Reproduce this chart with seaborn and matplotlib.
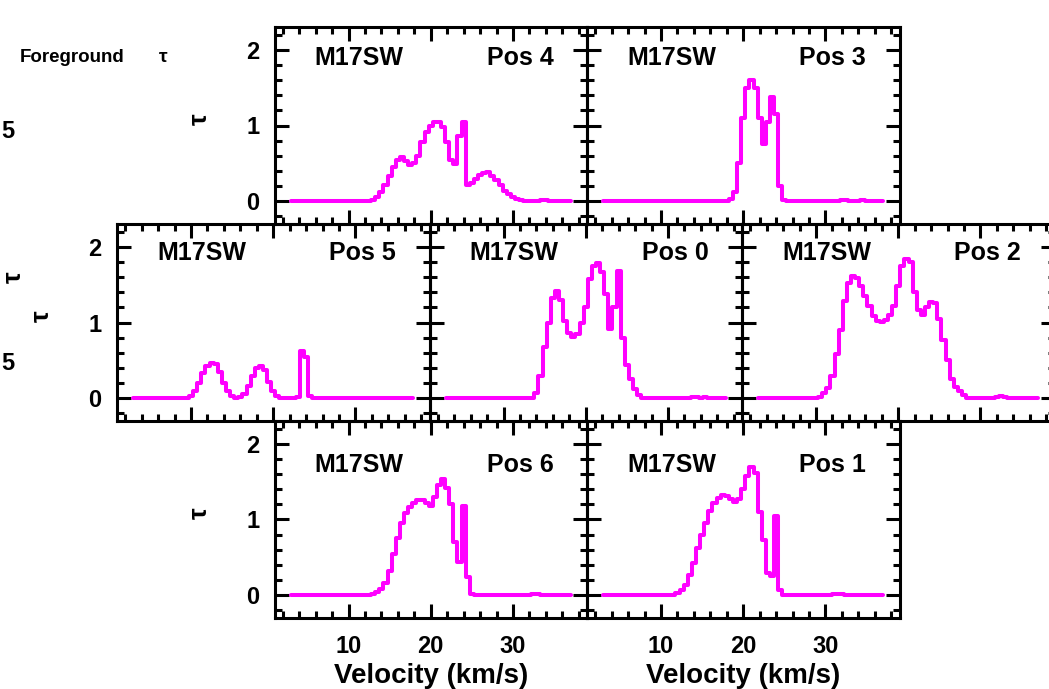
import matplotlib
matplotlib.use("Agg")
import matplotlib.pyplot as plt
from matplotlib.ticker import FixedLocator, MultipleLocator
import pandas as pd
import seaborn as sns

# ---------------------------------------------------------------- data
# channel velocities (km/s)
VELOCITY = [3.0, 3.5, 4.0, 4.5, 5.0, 5.5, 6.0, 6.5, 7.0, 7.5,
            8.0, 8.5, 9.0, 9.5, 10.0, 10.5, 11.0, 11.5, 12.0, 12.5,
            13.0, 13.5, 14.0, 14.5, 15.0, 15.5, 16.0, 16.5, 17.0, 17.5,
            18.0, 18.5, 19.0, 19.5, 20.0, 20.5, 21.0, 21.5, 22.0, 22.5,
            23.0, 23.5, 24.0, 24.5, 25.0, 25.5, 26.0, 26.5, 27.0, 27.5,
            28.0, 28.5, 29.0, 29.5, 30.0, 30.5, 31.0, 31.5, 32.0, 32.5,
            33.0, 33.5, 34.0, 34.5, 35.0, 35.5, 36.0, 36.5, 37.0]

# foreground optical depth per position
TAU_POS4 = [0, 0, 0, 0, 0, 0, 0, 0, 0, 0,
            0, 0, 0, 0, 0, 0, 0, 0, 0, 0.01,
            0.02, 0.05, 0.12, 0.22, 0.33, 0.45, 0.55, 0.58, 0.53, 0.48,
            0.50, 0.60, 0.78, 0.92, 1.00, 1.04, 1.04, 0.98, 0.78, 0.55,
            0.49, 0.86, 1.04, 0.22, 0.24, 0.30, 0.35, 0.37, 0.38, 0.33,
            0.28, 0.21, 0.14, 0.09, 0.05, 0.03, 0.02, 0.01, 0.01, 0.01,
            0.01, 0.02, 0.02, 0.01, 0.01, 0.01, 0, 0, 0]

TAU_POS3 = [0, 0, 0, 0, 0, 0, 0, 0, 0, 0,
            0, 0, 0, 0, 0, 0, 0, 0, 0, 0,
            0, 0, 0, 0, 0, 0, 0, 0, 0, 0,
            0.01, 0.03, 0.12, 0.50, 1.10, 1.50, 1.60, 1.50, 1.10, 0.76,
            1.05, 1.37, 1.15, 0.20, 0.02, 0, 0, 0, 0, 0,
            0, 0, 0, 0, 0, 0, 0, 0.01, 0.02, 0.02,
            0.01, 0.01, 0.01, 0.02, 0.01, 0.01, 0, 0, 0]

TAU_POS5 = [0, 0, 0, 0, 0, 0, 0, 0, 0, 0,
            0, 0, 0, 0.01, 0.03, 0.10, 0.20, 0.33, 0.43, 0.46,
            0.45, 0.35, 0.20, 0.09, 0.03, 0.01, 0.02, 0.06, 0.16, 0.30,
            0.40, 0.42, 0.37, 0.22, 0.10, 0.03, 0.01, 0, 0, 0,
            0.02, 0.62, 0.55, 0.03, 0, 0, 0, 0, 0, 0,
            0, 0, 0, 0, 0, 0, 0, 0, 0, 0,
            0, 0, 0, 0, 0.01, 0, 0, 0, 0]

TAU_POS0 = [0, 0, 0, 0, 0, 0, 0, 0, 0, 0,
            0, 0, 0, 0, 0, 0, 0, 0, 0, 0,
            0, 0.01, 0.07, 0.30, 0.68, 1.00, 1.32, 1.41, 1.30, 1.02,
            0.86, 0.81, 0.85, 0.99, 1.20, 1.58, 1.75, 1.78, 1.66, 1.38,
            0.92, 1.20, 1.68, 0.80, 0.44, 0.25, 0.12, 0.04, 0.01, 0,
            0, 0, 0, 0, 0, 0, 0, 0, 0.01, 0.01,
            0.02, 0.02, 0.01, 0.02, 0.01, 0.01, 0, 0, 0]

TAU_POS2 = [0, 0, 0, 0, 0, 0, 0, 0, 0, 0,
            0, 0, 0, 0, 0, 0.02, 0.07, 0.14, 0.30, 0.59,
            0.90, 1.28, 1.52, 1.61, 1.59, 1.48, 1.35, 1.22, 1.08, 1.02,
            1.01, 1.03, 1.10, 1.22, 1.48, 1.74, 1.84, 1.80, 1.40, 1.17,
            1.10, 1.20, 1.27, 1.26, 1.05, 0.77, 0.50, 0.26, 0.15, 0.09,
            0.04, 0.01, 0, 0, 0, 0, 0, 0, 0.02, 0.03,
            0.02, 0.01, 0.01, 0.01, 0, 0, 0, 0, 0]

TAU_POS6 = [0, 0, 0, 0, 0, 0, 0, 0, 0, 0,
            0, 0, 0, 0, 0, 0, 0, 0, 0, 0.01,
            0.02, 0.04, 0.08, 0.16, 0.32, 0.55, 0.75, 0.95, 1.08, 1.17,
            1.22, 1.26, 1.26, 1.22, 1.18, 1.30, 1.45, 1.53, 1.42, 1.20,
            0.70, 0.44, 1.18, 0.24, 0.02, 0, 0, 0, 0, 0,
            0, 0, 0, 0, 0, 0, 0, 0.01, 0.01, 0.02,
            0.02, 0.01, 0.01, 0, 0.01, 0.01, 0, 0, 0]

TAU_POS1 = [0, 0, 0, 0, 0, 0, 0, 0, 0, 0,
            0, 0, 0, 0, 0, 0, 0, 0.01, 0.03, 0.07,
            0.14, 0.27, 0.43, 0.62, 0.79, 0.95, 1.11, 1.22, 1.29, 1.32,
            1.31, 1.27, 1.23, 1.27, 1.40, 1.58, 1.69, 1.62, 1.10, 0.73,
            0.30, 0.25, 1.04, 0.07, 0, 0, 0, 0, 0, 0,
            0, 0, 0, 0, 0, 0.01, 0.02, 0.02, 0.02, 0.01,
            0.01, 0, 0.01, 0.01, 0.01, 0, 0, 0, 0]

SOURCE = "M17SW"
POSITIONS = ["Pos 4", "Pos 3", "Pos 5", "Pos 0", "Pos 2", "Pos 6", "Pos 1"]
SPECTRA = [TAU_POS4, TAU_POS3, TAU_POS5, TAU_POS0, TAU_POS2, TAU_POS6, TAU_POS1]
X_MAJOR = [10, 20, 30]
Y_MAJOR = [0, 1, 2]
X_LABEL = "Velocity (km/s)"
Y_LABEL = "τ"

# long-form table for seaborn
frames = [pd.DataFrame({"velocity": VELOCITY, "tau": tau, "position": name})
          for name, tau in zip(POSITIONS, SPECTRA)]
df = pd.concat(frames, ignore_index=True)

# ---------------------------------------------------------------- layout
FIG_W, FIG_H = 1049, 689
PANEL_W, PANEL_H = 312.5, 197
XLIM = (1, 39)
YLIM = (-0.3, 2.3)
MAGENTA = "#FF00FF"
INK = "black"

# position name -> (left px, top px, row, shows y tick labels)
LAYOUT = {
    "Pos 4": (274.5, 27, "top", True),
    "Pos 3": (587.0, 27, "top", False),
    "Pos 5": (117.0, 224, "mid", True),
    "Pos 0": (429.5, 224, "mid", False),
    "Pos 2": (742.0, 224, "mid", False),
    "Pos 6": (274.5, 421, "bottom", True),
    "Pos 1": (587.0, 421, "bottom", False),
}
LABEL_BASE = {"top": 1.80, "mid": 1.825, "bottom": 1.63}

sns.set_style("white")
plt.rcParams["font.family"] = ["Liberation Sans", "DejaVu Sans"]
plt.rcParams["font.weight"] = "bold"
plt.rcParams["axes.linewidth"] = 2.2
plt.rcParams["text.color"] = INK
plt.rcParams["axes.labelcolor"] = INK
plt.rcParams["xtick.color"] = INK
plt.rcParams["ytick.color"] = INK
plt.rcParams["xtick.labelcolor"] = INK
plt.rcParams["ytick.labelcolor"] = INK

fig = plt.figure(figsize=(FIG_W / 100, FIG_H / 100), dpi=100)
fig.patch.set_facecolor("white")


def fx(px):
    return px / FIG_W


def fy(py):
    return 1 - py / FIG_H


for name in POSITIONS:
    left, top, row, ylabels = LAYOUT[name]
    ax = fig.add_axes([fx(left), fy(top + PANEL_H), PANEL_W / FIG_W, PANEL_H / FIG_H])
    ax.set_facecolor("none")
    sns.lineplot(data=df[df["position"] == name], x="velocity", y="tau", ax=ax,
                 color=MAGENTA, linewidth=2.9, drawstyle="steps-mid",
                 estimator=None, sort=False, legend=False)
    ax.set_xlim(*XLIM)
    ax.set_ylim(*YLIM)
    ax.xaxis.set_major_locator(FixedLocator(X_MAJOR))
    ax.xaxis.set_minor_locator(MultipleLocator(2))
    ax.yaxis.set_major_locator(FixedLocator(Y_MAJOR))
    ax.yaxis.set_minor_locator(MultipleLocator(0.2))
    for sp in ax.spines.values():
        sp.set_visible(True)
        sp.set_color(INK)
        sp.set_linewidth(2.2)
    ax.tick_params(which="both", direction="in", top=True, right=True,
                   bottom=True, left=True, width=2.2, color=INK,
                   labelcolor=INK)
    ax.tick_params(which="major", length=10)
    ax.tick_params(which="minor", length=5)
    ax.tick_params(axis="x", which="major", pad=12, labelsize=17,
                   labelbottom=(row == "bottom"))
    ax.tick_params(axis="y", which="major", pad=11, labelsize=17,
                   labelleft=ylabels)
    for lab in ax.get_xticklabels() + ax.get_yticklabels():
        lab.set_fontweight("bold")

    ax.set_ylabel("")
    if ylabels:
        ax.text(-0.24, 0.53, Y_LABEL, transform=ax.transAxes, rotation=90,
                ha="center", va="center", fontsize=19, fontweight="bold",
                color=INK)
    if row == "bottom":
        ax.set_xlabel(X_LABEL, fontsize=20, fontweight="bold", color=INK)
        ax.xaxis.set_label_coords(0.5, -0.33)
        ax.xaxis.label.set_va("baseline")
    else:
        ax.set_xlabel("")

    base = LABEL_BASE[row]
    ax.text(5.9, base, SOURCE, ha="left", va="baseline",
            fontsize=18, fontweight="bold", color=INK)
    ax.text(34.9, base, name, ha="right", va="baseline",
            fontsize=18, fontweight="bold", color=INK)

# labels from neighbouring panels at the left edge
fig.text(fx(20), fy(57), "Foreground", ha="left", va="center",
         fontsize=13.5, fontweight="bold", color=INK)
fig.text(fx(163), fy(57), "τ", ha="center", va="center",
         fontsize=14, fontweight="bold", color=INK)
fig.text(fx(1), fy(132), "5", ha="left", va="center",
         fontsize=17, fontweight="bold", color=INK)
fig.text(fx(1), fy(363), "5", ha="left", va="center",
         fontsize=17, fontweight="bold", color=INK)
fig.text(fx(2), fy(277), "τ", ha="left", va="center", rotation=90,
         fontsize=19, fontweight="bold", color=INK)

fig.savefig("out.png", dpi=100, facecolor="white")
